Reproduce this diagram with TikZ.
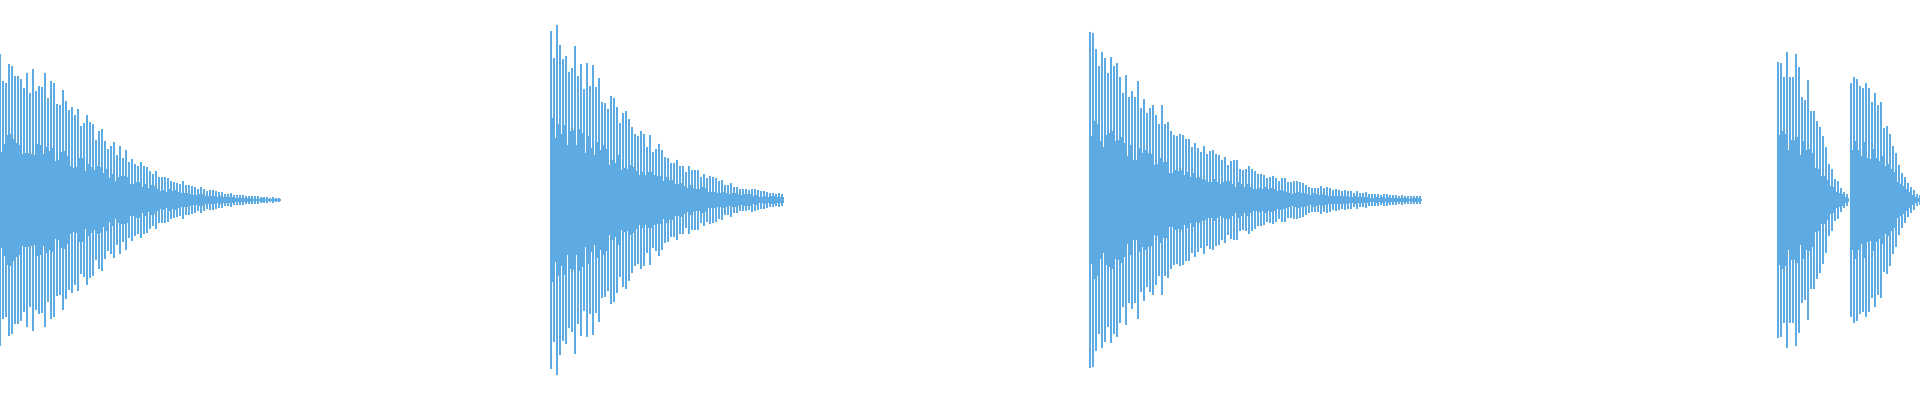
\documentclass[tikz,border=0pt]{standalone}
\definecolor{wave}{RGB}{93,171,226}
\begin{document}
\begin{tikzpicture}[x=0.01cm,y=-0.01cm,wl/.style={draw=wave,line width=0.3pt}]
\useasboundingbox (0,0) rectangle (1920,400);
\pgfmathsetseed{7}
\foreach \s/\e/\A/\k/\p in {0/279/150/4.5/1.8, 551/784/185/3.5/1.4, 1090/1420/180/4.0/1.2, 1778/1849/155/3.5/3, 1851/1920/135/3.5/3}{
  \pgfmathsetmacro\len{int(\e-\s)}
  \foreach \i in {0,3,...,\len}{
    \pgfmathsetmacro\env{\A*exp(-\k*(\i/\len)^\p)+1}
    \pgfmathsetmacro\a{\env*(0.75+0.25*rnd)}
    \pgfmathsetmacro\b{\env*(0.3+0.15*rnd)}
    \draw[wl] (\s+\i,200-\a) -- (\s+\i,200+\a);
    \draw[wl] (\s+\i+1.5,200-\b) -- (\s+\i+1.5,200+\b);
  }
}
\end{tikzpicture}
\end{document}
